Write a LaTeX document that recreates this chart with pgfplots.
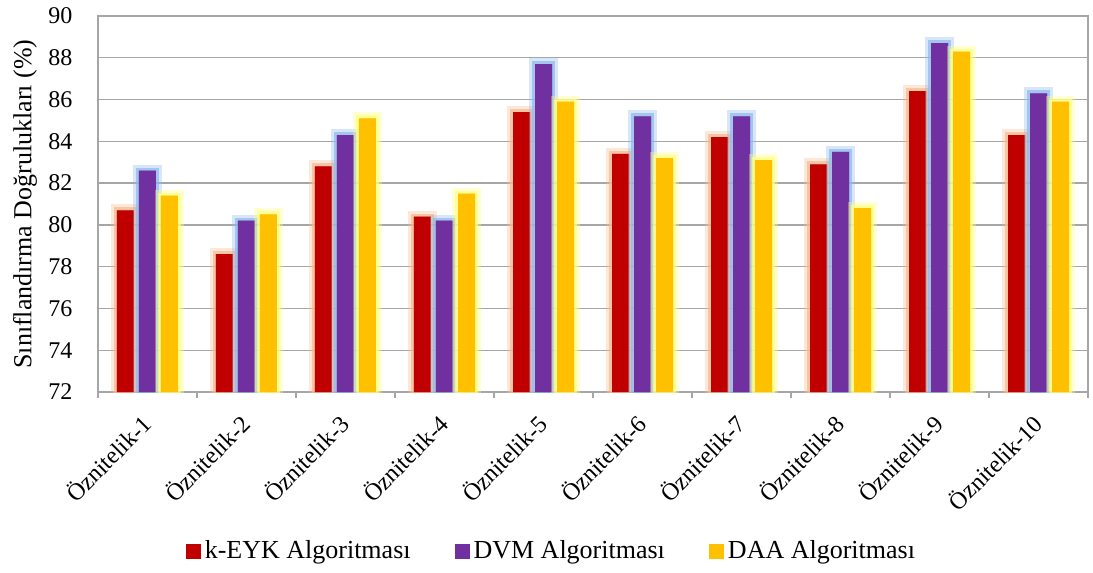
\documentclass[border=0pt]{standalone}
\usepackage{fontspec}
\setmainfont{Liberation Serif}
\usepackage{pgfplots}
\pgfplotsset{compat=1.18}

\definecolor{kred}{HTML}{C00000}
\definecolor{dpurple}{HTML}{7030A0}
\definecolor{dyellow}{HTML}{FFC000}
\definecolor{gred}{HTML}{F8B990}
\definecolor{gblue}{HTML}{8DB8EE}
\definecolor{gyellow}{HTML}{FFFF80}
\definecolor{gridgray}{HTML}{A6A6A6}

% glow strength, switched off inside the legend
\def\glowa{0.35}
\def\glowb{0.7}
\def\glowwa{6pt}
\def\glowwb{3pt}
\tikzset{glow/.style={
    preaction={draw=#1, line width=\glowwa, draw opacity=\glowa},
    preaction={draw=#1, line width=\glowwb, draw opacity=\glowb}}}

\begin{document}
\begin{tikzpicture}
  \begin{axis}[
      scale only axis,
      width=495pt, height=188pt,
      ybar=2.5pt, bar width=8.5pt,
      every axis plot post/.append style={
        legend image code/.code={\fill[##1] (0pt,-3.75pt) rectangle (7.5pt,3.75pt);}},
      xmin=-0.5, xmax=9.5,
      ymin=72, ymax=90,
      ytick={72,74,...,90},
      xtick={0,...,9},
      xticklabels={Öznitelik-1,Öznitelik-2,Öznitelik-3,Öznitelik-4,Öznitelik-5,
                   Öznitelik-6,Öznitelik-7,Öznitelik-8,Öznitelik-9,Öznitelik-10},
      minor xtick={-0.5,0.5,...,9.5},
      xtick pos=bottom,
      major x tick style={draw=none},
      minor x tick style={draw=gridgray, line width=0.6pt},
      minor tick length=3pt,
      tick align=outside,
      ytick style={draw=none},
      ymajorgrids,
      major grid style={gridgray, line width=0.7pt},
      axis line style={gridgray, line width=0.8pt},
      tick label style={font=\fontsize{12}{14}\selectfont},
      /pgf/number format/assume math mode=true,
      yticklabel style={xshift=-5pt},
      xticklabel style={xshift=2pt, yshift=-7pt, rotate=45, anchor=east},
      ylabel={Sınıflandırma Doğrulukları (\%)},
      ylabel style={at={(axis description cs:-0.0737,0.5)}, anchor=center,
                    font=\fontsize{13}{15}\selectfont},
      legend style={at={(axis description cs:0.459,-0.423)}, anchor=center,
                    draw=none, legend columns=3,
                    font=\fontsize{13}{15}\selectfont,
                    execute at begin cell={\def\glowa{0}\def\glowb{0}\def\glowwa{0pt}\def\glowwb{0pt}},
                    /tikz/every even column/.append style={column sep=20pt}},
    ]
    \addplot[fill=kred, draw=none, glow=gred]
      coordinates {(0,80.7) (1,78.6) (2,82.8) (3,80.4) (4,85.4)
                   (5,83.4) (6,84.2) (7,82.9) (8,86.4) (9,84.3)};
    \addplot[fill=dpurple, draw=none, glow=gblue]
      coordinates {(0,82.6) (1,80.2) (2,84.3) (3,80.2) (4,87.7)
                   (5,85.2) (6,85.2) (7,83.5) (8,88.7) (9,86.3)};
    \addplot[fill=dyellow, draw=none, glow=gyellow]
      coordinates {(0,81.4) (1,80.5) (2,85.1) (3,81.5) (4,85.9)
                   (5,83.2) (6,83.1) (7,80.8) (8,88.3) (9,85.9)};
    \legend{k-EYK Algoritması, DVM Algoritması, DAA Algoritması}
    \coordinate (bbA) at (axis description cs:-0.09899,1.04255);
    \coordinate (bbB) at (axis description cs:1.00505,-0.47872);
  \end{axis}
  \pgfresetboundingbox
  \path (bbA) rectangle (bbB);
\end{tikzpicture}
\end{document}
